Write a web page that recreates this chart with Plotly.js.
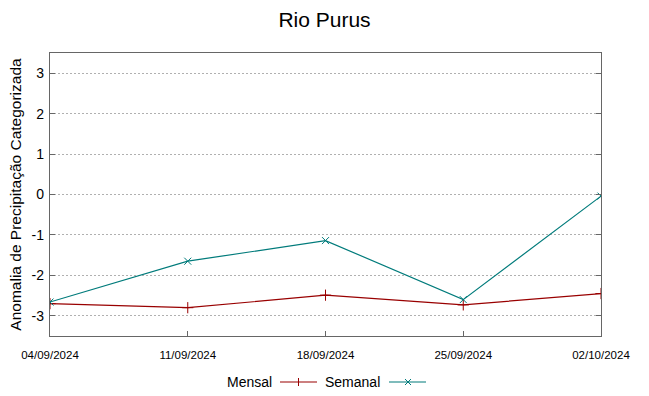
<!DOCTYPE html>
<html><head><meta charset="utf-8">
<script src="https://cdn.plot.ly/plotly-3.0.1.min.js"></script>
<style>body{margin:0;background:#fff}#c{width:649px;height:396px}</style>
</head><body><div id="c"></div>
<script>
const dates = ['2024-09-04','2024-09-11','2024-09-18','2024-09-25','2024-10-02'];
const tickLabels = ['04/09/2024','11/09/2024','18/09/2024','25/09/2024','02/10/2024'];
const mensal = [-2.70, -2.80, -2.49, -2.73, -2.45];
const semanal = [-2.66, -1.65, -1.14, -2.60, -0.04];
const yTicks = [-3,-2,-1,0,1,2,3];
const yTickLabels = ['-3','-2','-1','0','1','2','3'];

const red = '#990000', teal = '#007b7b';
const font = 'Liberation Sans, Arial, sans-serif';

const traces = [
  {x: dates, y: mensal, type:'scatter', mode:'lines+markers', name:'Mensal',
   line:{color:red, width:1.2}, marker:{symbol:'cross-thin-open', size:8, color:red, line:{color:red, width:1}}},
  {x: dates, y: semanal, type:'scatter', mode:'lines+markers', name:'Semanal',
   line:{color:teal, width:1.2}, marker:{symbol:'x-thin-open', size:7, color:teal, line:{color:teal, width:1}}}
];

const W = 649, H = 396, L = 50, R = 48, T = 53, B = 60;
const pw = W - L - R, ph = H - T - B;
const px = v => (v - L) / pw;
const py = v => (H - B - v) / ph;
const legY = 382;
const shapes = [
  {type:'line', xref:'paper', yref:'paper', x0:px(280), x1:px(317), y0:py(legY), y1:py(legY), line:{color:red, width:1.2}},
  {type:'line', xref:'paper', yref:'paper', x0:px(298.5), x1:px(298.5), y0:py(legY-4), y1:py(legY+4), line:{color:red, width:1}},
  {type:'line', xref:'paper', yref:'paper', x0:px(405), x1:px(411), y0:py(legY-3), y1:py(legY+3), line:{color:teal, width:1}},
  {type:'line', xref:'paper', yref:'paper', x0:px(405), x1:px(411), y0:py(legY+3), y1:py(legY-3), line:{color:teal, width:1}},
  {type:'line', xref:'paper', yref:'paper', x0:px(389), x1:px(426), y0:py(legY), y1:py(legY), line:{color:teal, width:1.2}}
];
const annotations = [
  {xref:'paper', yref:'paper', x:px(274), y:py(legY), text:'Mensal', showarrow:false, xanchor:'right', yanchor:'middle', font:{family:font, size:14, color:'#000'}},
  {xref:'paper', yref:'paper', x:px(382), y:py(legY), text:'Semanal', showarrow:false, xanchor:'right', yanchor:'middle', font:{family:font, size:14, color:'#000'}}
];

const layout = {
  width: W, height: H,
  margin: {l:L, r:R, t:T, b:B},
  paper_bgcolor:'#fff', plot_bgcolor:'#fff',
  showlegend:false,
  title:{text:'Rio Purus', x:0.5, xanchor:'center', y:0.95, yanchor:'middle', font:{family:font, size:21, color:'#000'}},
  xaxis:{type:'date', range:[dates[0], dates[dates.length-1]], tickmode:'array', tickvals:dates, ticktext:tickLabels,
    ticks:'inside', ticklen:5, tickcolor:'#666', showgrid:false, zeroline:false,
    showline:true, linecolor:'#666', linewidth:1.2, mirror:true, ticklabelstandoff:8,
    tickfont:{family:font, size:11.5, color:'#000'}},
  yaxis:{range:[-3.5,3.5], tickmode:'array', tickvals:yTicks, ticktext:yTickLabels, ticks:'inside', ticklen:5, tickcolor:'#666',
    showgrid:true, gridcolor:'#b0b0b0', griddash:'2px,2px', gridwidth:1, zeroline:false,
    showline:true, linecolor:'#666', linewidth:1.2, mirror:'ticks', ticklabelstandoff:2,
    tickfont:{family:font, size:14, color:'#000'},
    title:{text:'Anomalia de Precipitação Categorizada', standoff:6, font:{family:font, size:15.5, color:'#000'}}},
  shapes: shapes,
  annotations: annotations
};
Plotly.newPlot('c', traces, layout, {displayModeBar:false, staticPlot:true});
</script></body></html>
